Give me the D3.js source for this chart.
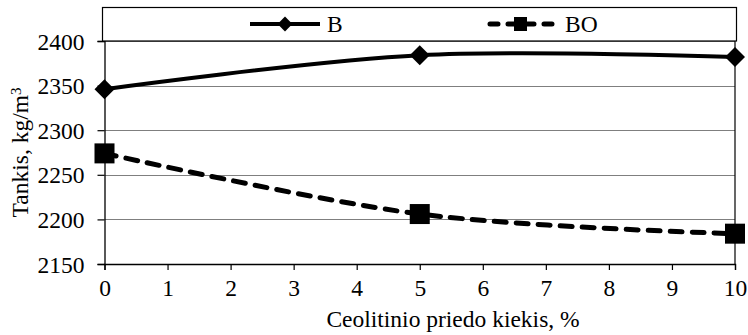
<!DOCTYPE html>
<html>
<head>
<meta charset="utf-8">
<script src="https://cdn.jsdelivr.net/npm/d3@7"></script>
<style>
  body { margin: 0; background: #fff; }
  svg, svg text { font-family: "Liberation Serif", "Times New Roman", "DejaVu Serif", serif; }
  svg { display: block; }
</style>
</head>
<body>
<div id="chart"></div>
<script>
// Data
var xValues = [0, 5, 10];
var seriesB = [2346, 2384, 2382];
var seriesBO = [2274, 2206, 2184];
var xTicks = [0, 1, 2, 3, 4, 5, 6, 7, 8, 9, 10];
var yTicks = [2150, 2200, 2250, 2300, 2350, 2400];

var width = 748, height = 335;
var plotLeft = 104.5, plotRight = 735, plotTop = 41, plotBottom = 264;
var fontSize = "23.5px";
var serif = '"Liberation Serif", "Times New Roman", "DejaVu Serif", serif';

var svg = d3.select("#chart").append("svg")
    .attr("width", width).attr("height", height);

var x = d3.scaleLinear().domain([0, 10]).range([plotLeft, plotRight]);
var y = d3.scaleLinear().domain([2150, 2400]).range([plotBottom, plotTop]);

// Horizontal gridlines
svg.append("g")
  .selectAll("line")
  .data(yTicks.slice(1, -1))
  .enter().append("line")
    .attr("x1", plotLeft).attr("x2", plotRight)
    .attr("y1", function(d) { return Math.round(y(d)) + 0.5; })
    .attr("y2", function(d) { return Math.round(y(d)) + 0.5; })
    .attr("stroke", "#7f7f7f").attr("stroke-width", 1.2);

// Plot frame (top and right)
svg.append("line").attr("x1", plotLeft).attr("x2", plotRight).attr("y1", plotTop).attr("y2", plotTop)
  .attr("stroke", "#000").attr("stroke-width", 1.2);
svg.append("line").attr("x1", plotRight).attr("x2", plotRight).attr("y1", plotTop).attr("y2", plotBottom)
  .attr("stroke", "#000").attr("stroke-width", 1.2);

// Axes
var xAxis = d3.axisBottom(x).tickValues(xTicks).tickSize(6).tickPadding(9);
var yAxis = d3.axisLeft(y).tickValues(yTicks).tickFormat(d3.format("d")).tickSize(7).tickPadding(13);

var gx = svg.append("g").attr("transform", "translate(0," + plotBottom + ")").call(xAxis);
var gy = svg.append("g").attr("transform", "translate(" + plotLeft + ",0)").call(yAxis);

[gx, gy].forEach(function(g) {
  g.attr("font-family", null).attr("font-size", null);
  g.select(".domain").attr("stroke", "#000").attr("stroke-width", 1.3);
  g.selectAll(".tick line").attr("stroke", "#000").attr("stroke-width", 1.2);
  g.selectAll(".tick text")
    .attr("fill", "#000")
    .style("font-family", serif)
    .style("font-size", fontSize);
});
gy.selectAll(".tick text").attr("dy", "0.34em");

// Axis titles
svg.append("text")
  .attr("x", 453).attr("y", 327)
  .attr("text-anchor", "middle")
  .style("font-family", serif)
  .style("font-size", fontSize)
  .text("Ceolitinio priedo kiekis, %");

var yTitle = svg.append("text")
  .attr("transform", "translate(28," + ((plotTop + plotBottom) / 2) + ") rotate(-90)")
  .attr("text-anchor", "middle")
  .style("font-family", serif)
  .style("font-size", fontSize);
yTitle.append("tspan").text("Tankis,  kg/m");
yTitle.append("tspan").attr("dy", "-0.45em").style("font-size", "15px").text("3");

// Smoothed lines (Excel style)
var line = d3.line()
  .x(function(d) { return x(d[0]); })
  .y(function(d) { return y(d[1]); })
  .curve(d3.curveCardinal.tension(0));

var dataB = xValues.map(function(v, i) { return [v, seriesB[i]]; });
var dataBO = xValues.map(function(v, i) { return [v, seriesBO[i]]; });

svg.append("path").datum(dataB)
  .attr("d", line)
  .attr("fill", "none").attr("stroke", "#000").attr("stroke-width", 4);

svg.append("path").datum(dataBO)
  .attr("d", line)
  .attr("fill", "none").attr("stroke", "#000").attr("stroke-width", 5)
  .attr("stroke-dasharray", "12,10").attr("stroke-linecap", "round");

// Markers
svg.append("g").selectAll("path")
  .data(dataB)
  .enter().append("path")
    .attr("transform", function(d) { return "translate(" + x(d[0]) + "," + y(d[1]) + ") rotate(45)"; })
    .attr("d", d3.symbol().type(d3.symbolSquare).size(200))
    .attr("fill", "#000");

svg.append("g").selectAll("rect")
  .data(dataBO)
  .enter().append("rect")
    .attr("x", function(d) { return x(d[0]) - 10; })
    .attr("y", function(d) { return y(d[1]) - 10; })
    .attr("width", 20).attr("height", 20)
    .attr("fill", "#000");

// Legend box above the plot
svg.append("rect")
  .attr("x", 102.5).attr("y", 7.5)
  .attr("width", 634).attr("height", 33.5)
  .attr("fill", "#fff").attr("stroke", "#000").attr("stroke-width", 1.2);

var legY = 24;
svg.append("line").attr("x1", 250).attr("x2", 320).attr("y1", legY).attr("y2", legY)
  .attr("stroke", "#000").attr("stroke-width", 4);
svg.append("path")
  .attr("transform", "translate(285," + legY + ") rotate(45)")
  .attr("d", d3.symbol().type(d3.symbolSquare).size(110))
  .attr("fill", "#000");
svg.append("text").attr("x", 327).attr("y", legY + 8)
  .style("font-family", serif).style("font-size", fontSize).text("B");

svg.append("line").attr("x1", 490).attr("x2", 556).attr("y1", legY).attr("y2", legY)
  .attr("stroke", "#000").attr("stroke-width", 5)
  .attr("stroke-dasharray", "8,10").attr("stroke-linecap", "round");
svg.append("rect").attr("x", 514).attr("y", legY - 7).attr("width", 13).attr("height", 14)
  .attr("fill", "#000");
svg.append("text").attr("x", 565).attr("y", legY + 8)
  .style("font-family", serif).style("font-size", fontSize).text("BO");
</script>
</body>
</html>
